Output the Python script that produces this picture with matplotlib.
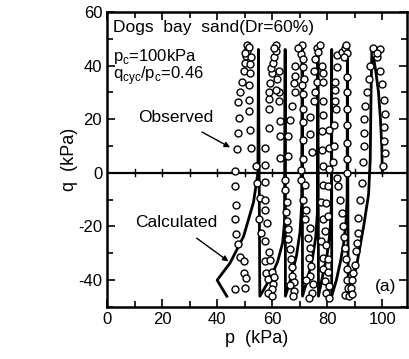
import numpy as np
import matplotlib.pyplot as plt
from matplotlib.ticker import MultipleLocator

plt.rcParams['font.family'] = ['Liberation Sans', 'DejaVu Sans']
plt.rcParams['mathtext.fontset'] = 'custom'
plt.rcParams['mathtext.rm'] = 'Liberation Sans'
plt.rcParams['axes.unicode_minus'] = False

# calculated stress path (p, q) in kPa
p_calc = [100, 99.8, 99.3, 98.6, 97.6, 96.8, 96.2,
          95.9, 95.6, 95.0, 93.2, 90.8, 88.4, 87.6,
          87.3,
          87.3, 87.2, 86.8, 86.0, 84.8, 83.3, 81.6,
          81.6,
          81.6, 81.5, 81.0, 80.0, 78.6, 76.8,
          76.6,
          76.6, 76.4, 75.8, 74.6, 73.0, 71.0,
          70.9,
          70.9, 70.7, 70.1, 68.8, 66.9, 64.8,
          64.7,
          64.7, 64.5, 63.8, 62.0, 59.5, 55.5,
          55.0,
          55.0, 54.8, 53.2, 49.6, 44.7, 40.0, 43.5]
q_calc = [0, 10, 20, 30, 38, 43, 46,
          30, 5, -8, -20, -33.7, -43.7, -46,
          46,
          46, -10, -18, -26, -33, -40, -46,
          46,
          46, -12, -22, -30, -37, -46,
          46,
          46, -15, -24, -32, -39, -46,
          46,
          46, -12, -22, -31, -39, -46,
          46,
          46, -18, -26, -33, -39, -46,
          46,
          46, 0, -11, -23.7, -33.6, -40, -46]

# observed data points
obs = [
    # last cycle, left columns
    (46.5, 0.5), (47.2, 9), (47.5, 15), (48, 20.5), (47.7, 26.5), (48.4, 30.3),
    (49, 34), (49.6, 37.8), (50.2, 41), (50.5, 43.5), (51, 45.5), (50.8, 47.5),
    (51.5, 46.8), (50, 44.5),
    (52.4, 9.2), (51.8, 16), (51.4, 23), (51.6, 27.2), (51.4, 32.8), (52, 37.2),
    (51.8, 40.5), (52.2, 43),
    (46.5, -5), (47, -12), (46.5, -17.3), (47, -22.8), (47.7, -26.5), (48.2, -31.5),
    (49.6, -32.7), (49.6, -37.2), (50.5, -39.3), (46.6, -43.4), (50.1, -43),
    # column between 55 and 65
    (57.5, 3), (57.5, 9.2), (58.7, 16.7), (58.7, 23.6), (58.7, 27.5), (58.9, 30.3),
    (59.2, 33.6), (59.9, 37.2), (59.5, 39), (60.3, 41), (60.8, 43), (61.5, 47.5),
    (61.3, 45.5), (60.5, 46.5), (54.2, 2.7),
    (62.5, 37.8), (61.8, 34.8), (62.5, 30.3), (62.5, 26.6), (63, 19.3), (63, 13.7),
    (63, 5.5), (61.5, 31),
    (54.4, -3.9), (57.5, -3.4), (55.4, -9.5), (57.5, -10.2), (55.1, -17.4),
    (57.5, -13.7), (55.8, -22.3), (58.2, -18.7), (57.5, -25.3), (58.7, -29.7),
    (57.5, -32.7), (59.2, -32.5), (57.9, -37.2), (59.9, -36.8), (58.5, -39.7),
    (60.3, -41.6), (59.9, -43.4), (58.5, -44.7), (59.9, -46), (60.8, -39),
    # column between 65 and 71
    (64.7, -2.6), (64.7, -6.3), (65.3, -11), (65, -14.7), (65.2, -17.8),
    (65.9, -20.9), (65.6, -24.6), (66.5, -28.4), (66.7, -32.1), (67.1, -35.2),
    (67.3, -38.3), (67.8, -40.8), (67.9, -43.9), (67.4, -45.8), (66.5, -42),
    (70.9, 47.8), (70.3, 44.4), (71, 42.5), (68.4, 40), (71, 39.3), (68.4, 36),
    (71.5, 35), (67.8, 33.3), (70.9, 32.8), (68.4, 30), (71, 29.4), (67.1, 24.9),
    (71, 23.6), (66.5, 19.8), (71, 18.8), (65.9, 13.7), (71, 12.4), (65.9, 6.3),
    (71, 5), (70.5, 1), (73.8, 20.7), (73.8, 14.3), (74.4, 7.6), (69.5, 46.5),
    # column between 71 and 77
    (70.6, -2.6), (71.8, -4.4), (71.2, -10), (72.4, -13.7), (72, -17.4),
    (73.6, -20.5), (73.1, -24.3), (73.6, -28), (73.3, -31.7), (74.2, -34.8),
    (73.8, -38.5), (74.8, -41.6), (74.4, -44.7), (73.3, -46.5), (72.4, -39.8),
    (76.3, 46.6), (77.5, 47.8), (76.8, 45), (75.7, 42.5), (78, 40), (75.2, 37.8),
    (78.5, 37.2), (76.4, 34), (78.5, 34), (75.2, 26.6), (78.5, 26.6), (75.5, 30),
    (78.5, 21.6), (80.8, 16), (78, 15.4), (78, 8.5), (80.8, 9.2), (78.5, 2.4),
    (80.5, 1.5),
    # column between 77 and 82
    (78.4, -4.4), (80.2, -5), (77.8, -10.8), (79.6, -11.4), (78.4, -17.4),
    (80.2, -16.2), (79, -21.7), (77.8, -25.3), (79.6, -27), (78.4, -31.7),
    (80.2, -32.3), (78.4, -36), (80.2, -37), (79, -40.3), (80.8, -42.2),
    (79.6, -44.7), (80.8, -46.5),
    # column between 82 and 88
    (82.9, 30.8), (82.9, 26.6), (83, 23.6), (83.5, 44), (83.5, 39.5), (82.9, 33.8),
    (85.5, 45), (86.5, 46.5), (87.2, 44.5), (86, 43), (87.3, 35.8), (87.3, 30),
    (87.3, 23.6), (87.3, 18), (87.3, 11), (87.3, 5), (87, 0), (82.5, 18),
    (82.3, 10), (82, 4), (86.8, 47.5),
    (85.3, -15), (85.8, -20), (86, -24), (86.5, -28), (86.8, -32), (87, -36),
    (87.2, -40), (87.5, -43), (86.5, -45.5), (84.5, -10), (84, -5), (83.5, -2),
    # right-most cycle
    (97.5, 44.4), (96.5, 46.5), (98, 43), (95.5, 40), (95, 35), (94.4, 30),
    (93.7, 25), (93.5, 20), (93.2, 15), (93.2, 10), (92.8, 4), (99, 38),
    (100, 33), (100.5, 27), (101, 22), (100.5, 17), (100.5, 12), (101, 7.5),
    (100.4, 2.5), (99, 46), (98.2, 44.8),
    (92.6, -3.9), (92, -10), (91.3, -16.9), (91, -22.4), (90.8, -26), (90.3, -29),
    (90, -34.3), (89.5, -37.3), (89, -40), (88.5, -43), (88, -46), (89, -45),
]
p_obs = [o[0] for o in obs]
q_obs = [o[1] for o in obs]

fig = plt.figure(figsize=(4.1, 3.59), dpi=100)
ax = fig.add_axes([0.261, 0.145, 0.732, 0.822])

ax.plot(p_obs, q_obs, 'o', ms=5, mfc='white', mec='black', mew=1.0, zorder=3)
ax.plot(p_calc, q_calc, '-', color='black', lw=2.0, zorder=2)

ax.axhline(0, color='black', lw=1.6, zorder=1)
xminor = np.arange(10, 110, 10)
for xv in xminor:
    ax.plot([xv, xv], [-1.3, 1.3], color='black', lw=1.0, zorder=1)

ax.set_xlim(0, 109)
ax.set_ylim(-50, 60)
ax.xaxis.set_major_locator(MultipleLocator(20))
ax.xaxis.set_minor_locator(MultipleLocator(10))
ax.yaxis.set_major_locator(MultipleLocator(20))
ax.yaxis.set_minor_locator(MultipleLocator(10))
ax.tick_params(which='both', direction='in', top=True, right=True, labelsize=12, width=1.2)
ax.tick_params(which='major', length=6)
ax.tick_params(which='minor', length=4)
ax.set_xticks([0, 20, 40, 60, 80, 100])
for s in ax.spines.values():
    s.set_linewidth(1.8)

ax.set_xlabel('p  (kPa)', fontsize=13, labelpad=2)
ax.set_ylabel('q  (kPa)', fontsize=13, labelpad=0)

ax.text(2, 57, 'Dogs  bay  sand(Dr=60%)', fontsize=12.5, va='top', ha='left')
ax.text(2, 47, r'p$_\mathrm{c}$=100kPa', fontsize=12, va='top', ha='left')
ax.text(2, 40.5, r'q$_\mathrm{cyc}$/p$_\mathrm{c}$=0.46', fontsize=12, va='top', ha='left')

ax.annotate('Observed', xy=(44.7, 9.5), xytext=(25, 20.5), fontsize=12.5,
            ha='center', va='center',
            arrowprops=dict(arrowstyle='-|>', color='black', lw=1.0,
                            shrinkA=6, shrinkB=0, mutation_scale=8))
ax.annotate('Calculated', xy=(44.1, -33), xytext=(25, -18.7), fontsize=12.5,
            ha='center', va='center',
            arrowprops=dict(arrowstyle='-|>', color='black', lw=1.0,
                            shrinkA=6, shrinkB=0, mutation_scale=8))
ax.text(101, -42.5, '(a)', fontsize=12.5, ha='center', va='center')

fig.savefig('out.png', dpi=100)
